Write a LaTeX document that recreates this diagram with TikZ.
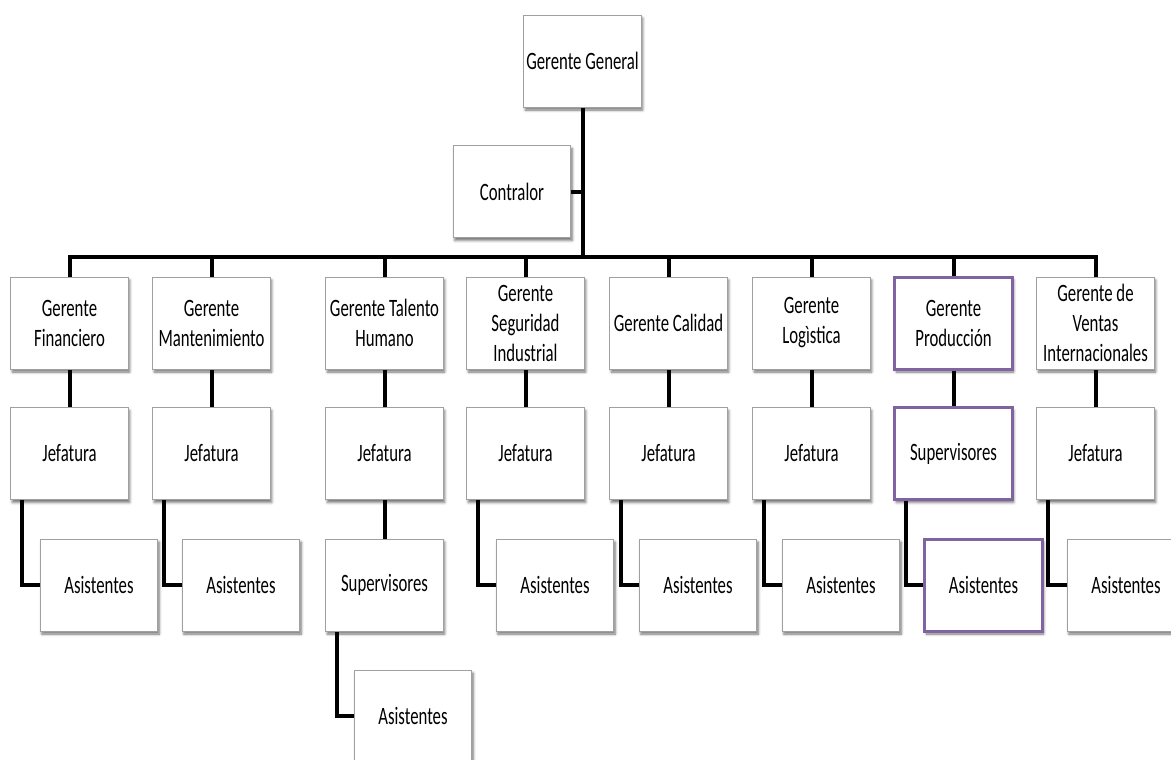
\documentclass[tikz,border=0pt]{standalone}
\usepackage{fontspec}
\setmainfont[FakeStretch=0.67]{Carlito}
\usetikzlibrary{shadows.blur,backgrounds}

\definecolor{boxline}{HTML}{A0A0A0}
\definecolor{accent}{HTML}{8064A2}

\tikzset{
  orgbox/.style={draw=boxline, line width=0.9pt, fill=white,
    minimum width=117.5pt, minimum height=92pt, inner sep=2pt,
    align=center, font=\fontsize{25}{30}\selectfont,
    blur shadow={shadow xshift=1.5pt, shadow yshift=-3pt,
      shadow blur radius=2.5pt, shadow opacity=55}},
  hilite/.style={draw=accent, line width=3pt},
  conn/.style={draw=black, line width=4pt, line join=miter, line cap=rect}
}

\begin{document}
\begin{tikzpicture}[x=1pt, y=-1pt]
\useasboundingbox (0,0) rectangle (1171,760);
\clip (0,0) rectangle (1171,760);

% top of the hierarchy
\node[orgbox] (gg)  at (582.5,61)  {Gerente General};
\node[orgbox] (con) at (512,191.5) {Contralor};

% managers
\node[orgbox] (g1) at (69.5,323)   {Gerente\\Financiero};
\node[orgbox] (g2) at (211.5,323)  {Gerente\\Mantenimiento};
\node[orgbox] (g3) at (384.5,323)  {Gerente Talento\\Humano};
\node[orgbox] (g4) at (525.5,323)  {Gerente\\Seguridad\\Industrial};
\node[orgbox] (g5) at (668.5,323)  {Gerente Calidad};
\node[orgbox] (g6) at (811.5,323)  {Gerente\\Logìstica};
\node[orgbox,hilite] (g7) at (953.5,323) {Gerente\\Producción};
\node[orgbox] (g8) at (1095.5,323) {Gerente de\\Ventas\\Internacionales};

% second level
\node[orgbox] (j1) at (69.5,453.5)   {Jefatura};
\node[orgbox] (j2) at (211.5,453.5)  {Jefatura};
\node[orgbox] (j3) at (384.5,453.5)  {Jefatura};
\node[orgbox] (j4) at (525.5,453.5)  {Jefatura};
\node[orgbox] (j5) at (668.5,453.5)  {Jefatura};
\node[orgbox] (j6) at (811.5,453.5)  {Jefatura};
\node[orgbox,hilite] (j7) at (953.5,453.5) {Supervisores};
\node[orgbox] (j8) at (1095.5,453.5) {Jefatura};

% third level
\node[orgbox] (a1) at (99,585)    {Asistentes};
\node[orgbox] (a2) at (241,585)   {Asistentes};
\node[orgbox] (s3) at (384.5,585) {Supervisores};
\node[orgbox] (a4) at (555,585)   {Asistentes};
\node[orgbox] (a5) at (698,585)   {Asistentes};
\node[orgbox] (a6) at (841,585)   {Asistentes};
\node[orgbox,hilite] (a7) at (983.5,585) {Asistentes};
\node[orgbox] (a8) at (1126,585)  {Asistentes};

% fourth level
\node[orgbox] (a3) at (413,716) {Asistentes};

\begin{scope}[on background layer]
  \coordinate (barL) at (69.5,257);
  \coordinate (barR) at (1095.5,257);
  \draw[conn] (barL) -- (barR);
  \draw[conn] (gg.south) -- (gg.south |- barL);
  \draw[conn] (con.east) -- (con.east -| gg.south);
  \foreach \g in {g1,g2,g3,g4,g5,g6,g7,g8}
    \draw[conn] (\g.north) -- (\g.north |- barL);
  \foreach \g/\j in {g1/j1,g2/j2,g3/j3,g4/j4,g5/j5,g6/j6,g7/j7,g8/j8}
    \draw[conn] (\g.south) -- (\j.north);
  \draw[conn] (j3.south) -- (s3.north);
  \foreach \j/\a in {j1/a1,j2/a2,j4/a4,j5/a5,j6/a6,j7/a7,j8/a8,s3/a3}
    \draw[conn] ([xshift=-47.5pt]\j.south) |- (\a.west);
\end{scope}
\end{tikzpicture}
\end{document}
